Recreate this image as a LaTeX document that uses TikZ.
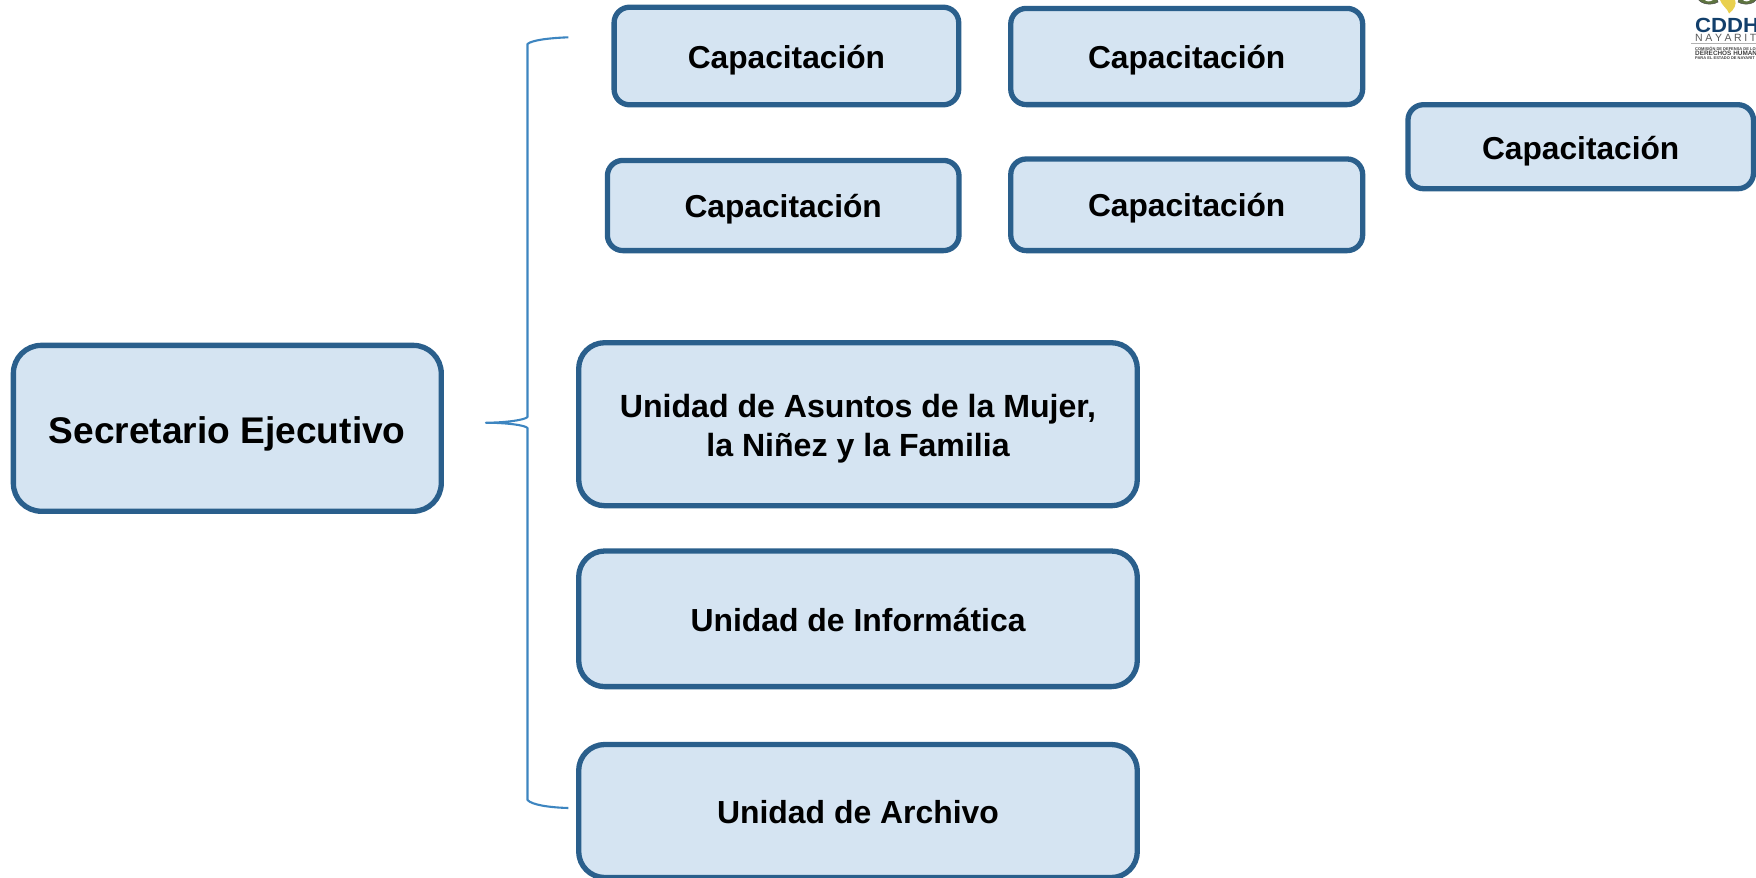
\documentclass[tikz,border=0pt]{standalone}
\usepackage{fontspec}
\setmainfont{Liberation Sans}
\newcommand{\lowertext}[2]{\raisebox{-#1pt}[\height][\depth]{#2}}
\tikzset{
 x=1pt,y=-1pt,
 box/.style={draw=boxline,fill=boxfill,line width=5.3pt,rounded corners=#1,align=center,inner sep=0pt,font=\bfseries\fontsize{31.7}{38.7}\selectfont,text=black},
 brace/.style={draw=braceblue,line width=2.1pt,line join=round}
}
\definecolor{boxline}{HTML}{2A5F8C}
\definecolor{boxfill}{HTML}{D5E4F2}
\definecolor{braceblue}{HTML}{3D85C0}
\definecolor{logonavy}{HTML}{123F6B}
\definecolor{logoleaf}{HTML}{5E7440}
\definecolor{logogold}{HTML}{E9D04E}
\begin{document}
\begin{tikzpicture}
\useasboundingbox (0,0) rectangle (1756,878);
\clip (0,0) rectangle (1756,878);
\node[box=28pt,minimum width=427.9pt,minimum height=165.9pt,font=\bfseries\fontsize{37.1}{44}\selectfont] (se) at (227.3,428.3) {\lowertext{5.2}{Secretario Ejecutivo}};
\node[box=15.5pt,minimum width=344.6pt,minimum height=97.6pt] (c1) at (786.4,56) {\lowertext{3.9}{Capacitación}};
\node[box=15.5pt,minimum width=351.9pt,minimum height=96.2pt] (c2) at (1186.7,56.5) {\lowertext{3.4}{Capacitación}};
\node[box=15.5pt,minimum width=345.5pt,minimum height=84pt] (c3) at (1580.7,146.7) {\lowertext{4.2}{Capacitación}};
\node[box=15.5pt,minimum width=351.6pt,minimum height=90.2pt] (c4) at (783.2,205.5) {\lowertext{3.8}{Capacitación}};
\node[box=15.5pt,minimum width=351.9pt,minimum height=91.6pt] (c5) at (1186.7,204.8) {\lowertext{3}{Capacitación}};
\node[box=26pt,minimum width=558.6pt,minimum height=163pt,font=\bfseries\fontsize{32.1}{38.7}\selectfont] (u1) at (858,424.2) {\lowertext{4.3}{Unidad de Asuntos de la Mujer,}\\\lowertext{4.3}{la Niñez y la Familia}};
\node[box=26pt,minimum width=558.6pt,minimum height=135.6pt,font=\bfseries\fontsize{31.9}{38.7}\selectfont] (u2) at (858,618.8) {\lowertext{0.8}{Unidad de Informática}};
\node[box=26pt,minimum width=558.6pt,minimum height=133pt,font=\bfseries\fontsize{31.9}{38.7}\selectfont] (u3) at (858,811) {\lowertext{0.8}{Unidad de Archivo}};
% brace
\coordinate (bt) at (568.3,37.3);
\coordinate (bm) at (486,422.7);
\coordinate (bb) at (568.3,808);
\draw[brace] (bt) .. controls (550,38) and (532,40) .. (527.5,44)
  -- (527.5,417) .. controls (525,420) and (505,422.7) .. (bm)
  .. controls (505,422.7) and (525,425) .. (527.5,428)
  -- (527.5,800) .. controls (532,805) and (550,807.5) .. (bb);
% logo
\fill[logoleaf,draw=black!70,line width=0.5pt] (1698,-1) .. controls (1701,4) and (1711,6) .. (1718,2) -- (1717,-1) -- cycle;
\fill[logoleaf,draw=black!70,line width=0.5pt] (1757,-1) .. controls (1754,4) and (1745,6) .. (1738,2) -- (1739,-1) -- cycle;
\fill[white] (1704,-1) .. controls (1706,2) and (1710,2) .. (1713,0) -- cycle;
\fill[white] (1751,-1) .. controls (1749,2) and (1745,2) .. (1743,0) -- cycle;
\fill[logogold] (1720,0) -- (1735,0) .. controls (1737,4) and (1734,10) .. (1729,13.5) .. controls (1728,9) and (1722,6) .. (1720,0);
\node[inner sep=0pt,anchor=base west,text=logonavy,font=\bfseries\fontsize{20.5}{20}\selectfont] (lg1) at (1695,32) {\scalebox{1.08}[1]{CDDH}};
\node[inner sep=0pt,anchor=base west,text=black!65,font=\fontsize{10.5}{11}\selectfont] (lg2) at (1695,41) {N\kern2.6pt A\kern2.6pt Y\kern2.6pt A\kern2.6pt R\kern2.6pt I\kern2.6pt T};
\fill[black!30] (1691,42.5) rectangle (1756,44);
\node[inner sep=0pt,anchor=north west,text=black!75,align=left,font=\bfseries\fontsize{4}{4}\selectfont] (lg3) at (1695,46.3) {COMISIÓN DE DEFENSA DE LOS\\[-0.2pt]{\fontsize{6.4}{5}\selectfont DERECHOS HUMANOS}\\[-0.2pt]PARA EL ESTADO DE NAYARIT};
\end{tikzpicture}
\end{document}
